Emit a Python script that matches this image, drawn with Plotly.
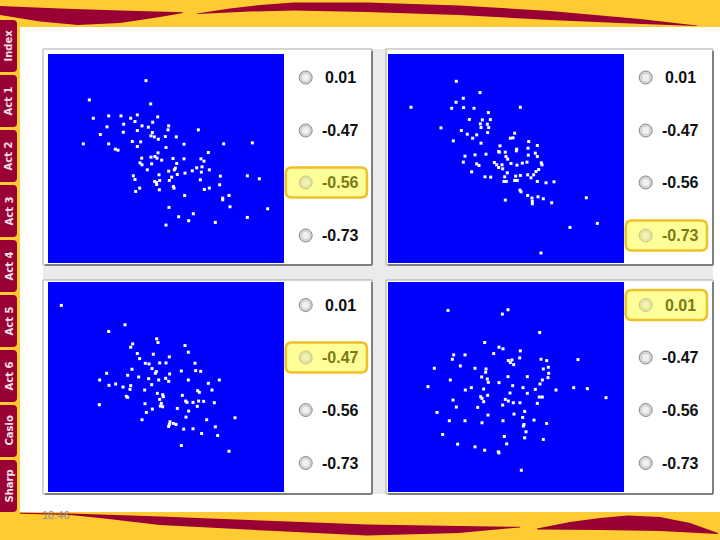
import plotly.graph_objects as go

W, H = 720, 540
YELLOW = "#FECB33"
MAROON = "#990033"
BLUE = "#0000FF"

# ---------------- data (in picture units) ----------------
option_labels = ["0.01", "-0.47", "-0.56", "-0.73"]
selected_option = [2, 3, 1, 0]          # highlighted answer in each panel
tab_labels = ["Index", "Act 1", "Act 2", "Act 3", "Act 4", "Act 5", "Act 6", "Casio", "Sharp"]
time_label = "18:46"

p1_x = [318,148,332,160,206,243,272,292,353,285,
        338,251,201,306,325,386,292,384,475,250,
        181,337,333,343,355,376,409,130,206,277,
        302,432,551,637,292,378,226,234,354,505,
        305,333,345,351,365,399,432,483,492,300,
        306,410,335,406,403,470,486,322,457,508,
        386,412,435,484,280,357,395,541,622,658,
        285,344,349,359,388,481,539,299,350,358,
        400,402,493,508,287,434,567,548,548,570,
        387,683,460,416,622,446,526,378]
p1_y = [107,165,177,220,213,213,220,210,216,230,
        232,238,246,243,247,243,257,255,255,262,
        269,263,273,276,283,275,276,297,297,290,
        291,298,297,294,305,308,313,316,324,323,
        340,337,335,340,346,341,342,342,349,354,
        360,356,357,370,375,369,366,375,378,375,
        379,389,385,382,393,390,397,394,393,402,
        404,410,413,407,407,405,420,430,419,435,
        425,430,434,430,440,452,452,460,465,486,
        488,492,507,516,518,528,533,541]

p2_x = [229,250,228,300,93,215,251,282,421,325,
        268,307,331,301,183,322,303,326,244,262,
        290,278,323,404,399,391,220,303,446,360,
        472,444,410,409,356,376,358,318,285,255,
        466,445,378,472,383,250,290,297,343,350,
        366,393,411,427,441,484,486,356,368,476,
        275,382,468,461,315,332,374,407,421,443,
        453,372,379,404,412,472,498,522,420,423,
        443,456,474,490,376,457,457,515,619,570,
        652,483]
p2_y = [109,160,172,143,187,190,188,190,187,203,
        224,225,224,237,249,238,248,248,257,268,
        270,280,263,265,279,280,288,295,290,303,
        302,310,313,318,320,322,322,328,330,334,
        325,331,335,335,343,352,357,362,353,360,
        360,356,361,355,352,354,360,368,372,374,
        381,384,380,390,396,397,396,394,392,390,
        399,410,410,407,407,410,414,411,436,441,
        452,460,456,462,466,470,477,474,459,548,
        536,625]

p3_x = [64,255,206,350,354,278,272,435,445,292,
        299,340,388,316,327,359,378,465,276,336,
        349,389,424,467,482,200,263,296,346,179,
        326,356,377,386,445,538,505,207,227,272,
        335,249,314,270,352,368,370,473,478,516,
        259,263,427,359,437,441,459,476,491,523,
        178,315,364,361,368,412,446,472,337,319,
        438,306,390,388,400,408,500,585,526,386,
        431,459,485,533,424,567]
p3_y = [107,165,185,207,218,222,232,227,247,251,
        266,253,261,280,282,279,279,280,298,296,
        305,312,303,302,304,310,316,321,310,330,
        326,330,325,334,330,330,340,346,342,347,
        344,351,360,358,370,374,380,362,367,360,
        379,382,376,388,393,397,397,393,394,398,
        404,401,400,408,410,415,423,409,417,427,
        441,449,455,463,460,463,449,443,470,469,
        477,476,490,496,526,543]

p4_x = [204,384,367,479,314,357,369,421,341,221,
        255,419,217,385,396,391,401,483,500,594,
        241,163,285,318,490,505,317,506,504,305,
        322,384,442,211,325,487,480,357,398,144,
        274,311,256,429,466,528,581,622,442,390,
        323,302,306,478,487,678,219,376,385,400,
        420,368,472,229,293,311,171,434,324,402,
        428,208,255,306,369,462,500,432,430,438,
        188,373,434,490,233,285,380,314,355,357,
        424]
p4_y = [122,120,133,188,218,232,237,243,251,255,
        255,264,268,272,270,278,284,268,272,269,
        288,295,295,297,297,292,307,310,323,321,
        327,320,320,330,337,330,342,338,347,350,
        353,357,360,353,358,360,353,356,370,369,
        376,380,385,381,381,383,390,388,393,398,
        398,405,400,411,412,395,427,424,435,432,
        442,452,452,458,452,450,460,463,468,485,
        493,499,503,508,522,530,521,540,545,548,
        600]

series_x = [p1_x, p2_x, p3_x, p4_x]
series_y = [p1_y, p2_y, p3_y, p4_y]

# ---------------- layout helpers (pixel -> paper) ----------------
def fx(v):
    return v / W

def fy(v):
    return 1 - v / H

def P(x, y):
    return f"{fx(x):.5f},{fy(y):.5f}"

def poly(points):
    return "M " + " L ".join(P(x, y) for x, y in points) + " Z"

def rrect(x0, y0, x1, y1, r):
    return (f"M {P(x0+r,y0)} L {P(x1-r,y0)} Q {P(x1,y0)} {P(x1,y0+r)} "
            f"L {P(x1,y1-r)} Q {P(x1,y1)} {P(x1-r,y1)} L {P(x0+r,y1)} "
            f"Q {P(x0,y1)} {P(x0,y1-r)} L {P(x0,y0+r)} Q {P(x0,y0)} {P(x0+r,y0)} Z")

def rect(x0, y0, x1, y1, fill, line_color=None, lw=0, layer="below"):
    return dict(type="rect", xref="paper", yref="paper", layer=layer,
                x0=fx(x0), x1=fx(x1), y0=fy(y1), y1=fy(y0),
                fillcolor=fill, line=dict(color=line_color or fill, width=lw))

def line(x0, y0, x1, y1, color, lw, layer="below"):
    return dict(type="line", xref="paper", yref="paper", layer=layer,
                x0=fx(x0), x1=fx(x1), y0=fy(y0), y1=fy(y1),
                line=dict(color=color, width=lw))

def circle(cx, cy, r, fill, line_color, lw):
    return dict(type="circle", xref="paper", yref="paper", layer="above",
                x0=fx(cx-r), x1=fx(cx+r), y0=fy(cy+r), y1=fy(cy-r),
                fillcolor=fill, line=dict(color=line_color, width=lw))

# panel geometry in pixels
panels = [
    dict(frame=(43, 49, 372, 265), blue=(48, 54, 284, 263), rx=305.7, lx=340,
         rows=[77.5, 130.5, 182.5, 235.5], xr=[24, 732], yr=[655, 27]),
    dict(frame=(386, 49, 713, 265), blue=(388, 54, 624, 263), rx=645.7, lx=680,
         rows=[77.5, 130.5, 182.5, 235.5], xr=[24, 732], yr=[655, 27]),
    dict(frame=(43, 280, 372, 494), blue=(48, 282, 284, 492), rx=305.7, lx=340,
         rows=[305, 357.5, 410, 463], xr=[24, 732], yr=[665, 37]),
    dict(frame=(386, 280, 713, 494), blue=(388, 282, 624, 492), rx=645.7, lx=680,
         rows=[305, 357.5, 410, 463], xr=[24, 732], yr=[665, 37]),
]

shapes = []
annotations = []

# background content area
shapes.append(rect(20, 27, 720, 512, "white"))
shapes.append(rect(43, 49, 713, 494, "#EBEBEB"))

for p in panels:
    x0, y0, x1, y1 = p["frame"]
    shapes.append(rect(x0, y0, x1, y1, "white", "#A8A8A8", 1))
    shapes.append(line(x1, y0 + 2, x1, y1, "#808080", 2))
    shapes.append(line(x0 + 2, y1, x1, y1, "#808080", 2))
    bx0, by0, bx1, by1 = p["blue"]
    shapes.append(rect(bx0, by0, bx1, by1, BLUE))

layout_axes = {}
fig = go.Figure()
for i, p in enumerate(panels):
    n = "" if i == 0 else str(i + 1)
    bx0, by0, bx1, by1 = p["blue"]
    layout_axes[f"xaxis{n}"] = dict(domain=[fx(bx0), fx(bx1)], range=p["xr"], visible=False,
                                    anchor=f"y{n}", fixedrange=True)
    layout_axes[f"yaxis{n}"] = dict(domain=[fy(by1), fy(by0)], range=p["yr"], visible=False,
                                    anchor=f"x{n}", fixedrange=True)
    fig.add_trace(go.Scatter(x=series_x[i], y=series_y[i], mode="markers",
                             marker=dict(symbol="square", size=3, color="white", line=dict(width=0)),
                             xaxis=f"x{n}", yaxis=f"y{n}", hoverinfo="skip", showlegend=False))

    # answer options
    for k, lab in enumerate(option_labels):
        cy = p["rows"][k]
        sel = (k == selected_option[i])
        if sel:
            shapes.append(dict(type="path", xref="paper", yref="paper", layer="above",
                               path=rrect(p["rx"] - 20, cy - 15, p["lx"] + 27, cy + 15, 6),
                               fillcolor="#FFFF99", line=dict(color="#F0C028", width=2.5)))
            shapes.append(circle(p["rx"], cy, 6.5, "#E4E49A", "#C8C88A", 1))
            shapes.append(circle(p["rx"], cy, 3.5, "#F2F2B8", "#F2F2B8", 0))
        else:
            shapes.append(circle(p["rx"], cy, 6.5, "#D4D4D4", "#8A8A8A", 1))
            shapes.append(circle(p["rx"], cy, 3.5, "#F0F0F0", "#F0F0F0", 0))
        annotations.append(dict(x=fx(p["lx"]), y=fy(cy), xref="paper", yref="paper",
                                text=lab, showarrow=False, xanchor="center", yanchor="middle",
                                font=dict(family="Liberation Sans, Arial", size=16, weight="bold",
                                          color="#7A7A14" if sel else "#111111")))

# top band and swooshes
shapes.append(rect(0, 0, 720, 27, YELLOW, layer="above"))
shapes.append(dict(type="path", xref="paper", yref="paper", layer="above",
                   path=poly([(0, 6), (60, 8.5), (120, 10.5), (183, 12.3), (183, 13), (160, 17),
                              (120, 23), (78, 25), (40, 21.5), (0, 15)]),
                   fillcolor=MAROON, line=dict(width=0)))
shapes.append(dict(type="path", xref="paper", yref="paper", layer="above",
                   path=poly([(197, 13.5), (230, 8.5), (260, 5), (294, 2.5), (367, 2.5), (459, 5.5),
                              (550, 11), (640, 19), (697, 25.5), (697, 26), (642, 24), (550, 20),
                              (459, 15), (367, 12), (294, 10.5), (250, 11.5), (197, 14)]),
                   fillcolor=MAROON, line=dict(width=0)))

# bottom band and swooshes
shapes.append(rect(0, 512, 720, 540, YELLOW, layer="above"))
shapes.append(dict(type="path", xref="paper", yref="paper", layer="above",
                   path=poly([(20, 512.8), (70, 513.5), (100, 514.5), (160, 516.5), (275, 521),
                              (367, 524.5), (459, 526), (520, 526.8), (520, 527.4), (459, 533),
                              (367, 535.5), (275, 531), (160, 525), (100, 518), (70, 515), (20, 513.8)]),
                   fillcolor=MAROON, line=dict(width=0)))
shapes.append(dict(type="path", xref="paper", yref="paper", layer="above",
                   path=poly([(537, 528.5), (570, 522), (600, 518), (628, 515.5), (660, 517),
                              (690, 523), (718, 533), (718, 534), (660, 531), (600, 530), (537, 529.5)]),
                   fillcolor=MAROON, line=dict(width=0)))

# left tabs (drawn over the bands)
shapes.append(rect(0, 27, 20, 512, YELLOW, layer="above"))
for j, lab in enumerate(tab_labels):
    t0 = 20 + 55 * j
    t1 = t0 + 52
    path = (f"M {P(0,t0)} L {P(13,t0)} Q {P(17,t0)} {P(17,t0+4)} L {P(17,t1-4)} "
            f"Q {P(17,t1)} {P(13,t1)} L {P(0,t1)} Z")
    shapes.append(dict(type="path", xref="paper", yref="paper", layer="above", path=path,
                       fillcolor=MAROON, line=dict(width=0)))
    annotations.append(dict(x=fx(8.5), y=fy((t0 + t1) / 2), xref="paper", yref="paper",
                            text=lab, textangle=-90, showarrow=False,
                            xanchor="center", yanchor="middle",
                            font=dict(family="DejaVu Sans", size=10, weight="bold", color="#F5E2E8")))

annotations.append(dict(x=fx(56), y=fy(514.5), xref="paper", yref="paper", text=time_label,
                        showarrow=False, xanchor="center", yanchor="middle",
                        font=dict(family="Liberation Sans, Arial", size=11, color="#8C8C8C")))

fig.update_layout(width=W, height=H, margin=dict(l=0, r=0, t=0, b=0),
                  paper_bgcolor=YELLOW, plot_bgcolor=BLUE, showlegend=False,
                  shapes=shapes, annotations=annotations, **layout_axes)

fig.write_html("out.html", config={"displayModeBar": False, "staticPlot": True},
               post_script="document.body.style.margin='0';document.body.style.padding='0';")
